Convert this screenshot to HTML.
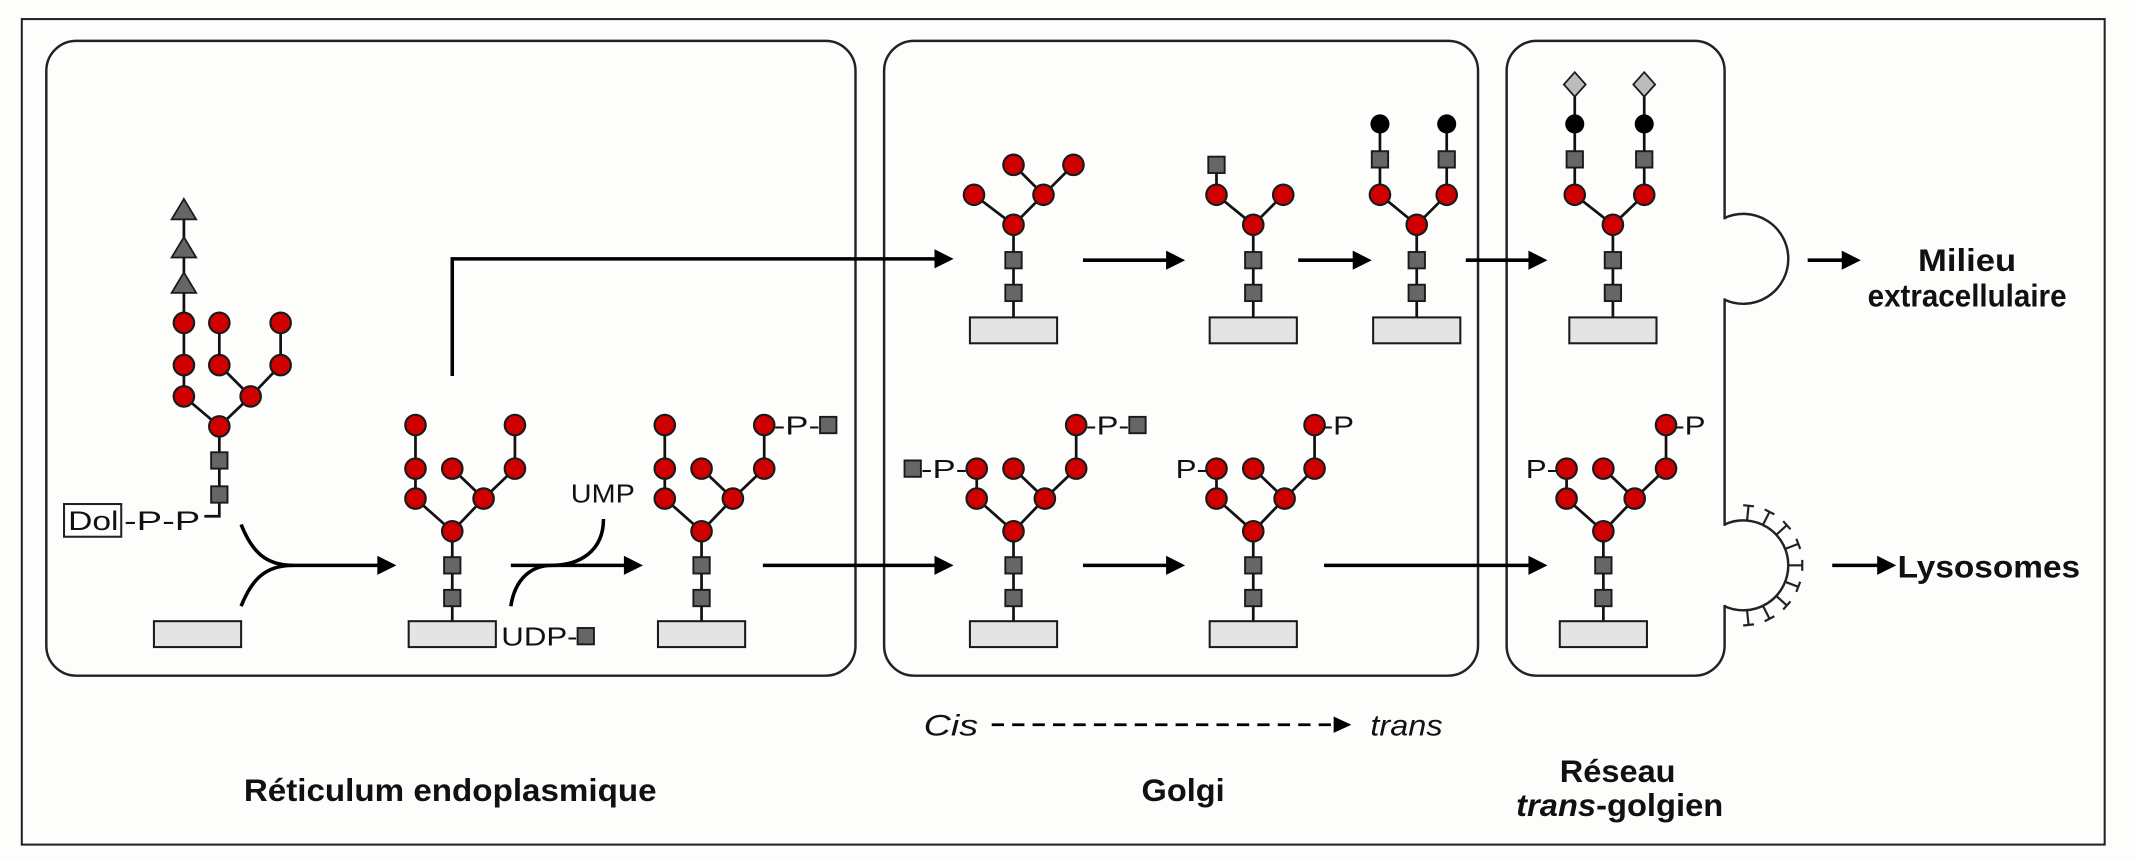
<!DOCTYPE html>
<html><head><meta charset="utf-8"><style>
html,body{margin:0;padding:0;background:#fdfdfb;}
svg{display:block;}
text{font-family:"Liberation Sans",Arial,sans-serif;fill:#111;}
</style></head><body>
<svg width="2136" height="860" viewBox="0 0 1568 631.3" xmlns="http://www.w3.org/2000/svg">
<defs>
<circle id="c" r="7.5" fill="#d10000" stroke="#1a1a1a" stroke-width="1.6"/>
<rect id="s" x="-6" y="-6" width="12" height="12" fill="#666" stroke="#1a1a1a" stroke-width="1.4"/>
<circle id="b" r="7" fill="#000"/>
<polygon id="d" points="0,-9 8,0 0,9 -8,0" fill="#bcbcbc" stroke="#1a1a1a" stroke-width="1.3"/>
<polygon id="t" points="0,-9 9,6 -9,6" fill="#666" stroke="#1a1a1a" stroke-width="1.3"/>
<rect id="r" x="-32" y="0" width="64" height="19" fill="#e4e4e4" stroke="#1a1a1a" stroke-width="1.5"/>
<polygon id="ah" points="0,0 -14,-7 -14,7" fill="#000"/>
</defs>
<rect x="0" y="0" width="1568" height="632" fill="#fdfdfb"/>
<rect x="16" y="14" width="1529" height="606" fill="none" stroke="#222" stroke-width="1.5"/>
<g fill="none" stroke="#222" stroke-width="1.8">
<rect x="34" y="30" width="594" height="466" rx="22"/>
<rect x="649" y="30" width="436" height="466" rx="22"/>
<rect x="1106" y="30" width="160" height="466" rx="22"/>
</g>
<line x1="1266" y1="161" x2="1266" y2="219" stroke="#fdfdfb" stroke-width="4"/>
<line x1="1266" y1="386" x2="1266" y2="444" stroke="#fdfdfb" stroke-width="4"/>
<g fill="none" stroke="#222" stroke-width="1.8">
<path d="M1266,160 A33,33 0 1 1 1266,220"/>
<path d="M1266,385 A33,33 0 1 1 1266,445"/>
</g>
<g stroke="#222" stroke-width="1.6">
<g transform="translate(1279,415) rotate(-84)"><line x1="33" x2="44"/><line x1="44" y1="-4" x2="44" y2="4"/></g>
<g transform="translate(1279,415) rotate(-63)"><line x1="33" x2="44"/><line x1="44" y1="-4" x2="44" y2="4"/></g>
<g transform="translate(1279,415) rotate(-42)"><line x1="33" x2="44"/><line x1="44" y1="-4" x2="44" y2="4"/></g>
<g transform="translate(1279,415) rotate(-21)"><line x1="33" x2="44"/><line x1="44" y1="-4" x2="44" y2="4"/></g>
<g transform="translate(1279,415) rotate(0)"><line x1="33" x2="44"/><line x1="44" y1="-4" x2="44" y2="4"/></g>
<g transform="translate(1279,415) rotate(21)"><line x1="33" x2="44"/><line x1="44" y1="-4" x2="44" y2="4"/></g>
<g transform="translate(1279,415) rotate(42)"><line x1="33" x2="44"/><line x1="44" y1="-4" x2="44" y2="4"/></g>
<g transform="translate(1279,415) rotate(63)"><line x1="33" x2="44"/><line x1="44" y1="-4" x2="44" y2="4"/></g>
<g transform="translate(1279,415) rotate(84)"><line x1="33" x2="44"/><line x1="44" y1="-4" x2="44" y2="4"/></g>
</g>

<g fill="none" stroke="#000" stroke-width="2.6">
<path d="M177,385 C185,405 195,415 215,415 L282,415"/>
<path d="M177,445 C185,425 195,415 215,415"/>
<path d="M375,415 H462"/>
<path d="M443,381 C443,405 425,415 405,415"/>
<path d="M375,445 C378,425 390,415 405,415"/>
<path d="M332,276 V190 H690"/>
<path d="M560,415 H690"/>
<path d="M795,191 H861"/><path d="M953,191 H998"/><path d="M1076,191 H1127"/>
<path d="M795,415 H861"/><path d="M972,415 H1127"/>
<path d="M1327,191 H1357"/><path d="M1345,415 H1383"/>
<path d="M728,532 H980" stroke-width="2" stroke-dasharray="9,6"/>
</g>
<use href="#ah" x="291" y="415"/><use href="#ah" x="472" y="415"/>
<use href="#ah" x="700" y="190"/><use href="#ah" x="700" y="415"/>
<use href="#ah" x="870" y="191"/><use href="#ah" x="1007" y="191"/><use href="#ah" x="1136" y="191"/>
<use href="#ah" x="870" y="415"/><use href="#ah" x="1136" y="415"/>
<use href="#ah" x="1366" y="191"/><use href="#ah" x="1392" y="415"/>
<polygon points="992,532 979,526 979,538" fill="#000"/>

<g transform="translate(161,313)">
<g stroke="#111" stroke-width="2" fill="none">
<path d="M0,0 V66 H-11"/>
<path d="M0,0 L-26,-22 V-160"/>
<path d="M0,0 L23,-22 L0,-45 V-76"/>
<path d="M23,-22 L45,-45 V-76"/>
</g>
<use href="#t" x="-26" y="-104"/><use href="#t" x="-26" y="-130"/><use href="#t" x="-26" y="-158"/>
<use href="#c" x="0" y="0"/><use href="#c" x="-26" y="-22"/><use href="#c" x="-26" y="-45"/><use href="#c" x="-26" y="-76"/>
<use href="#c" x="23" y="-22"/><use href="#c" x="0" y="-45"/><use href="#c" x="0" y="-76"/>
<use href="#c" x="45" y="-45"/><use href="#c" x="45" y="-76"/>
<use href="#s" x="0" y="25"/><use href="#s" x="0" y="50"/>
</g>
<rect x="47" y="370" width="42" height="24" fill="#fff" stroke="#222" stroke-width="1.5"/>
<text x="50" y="389" font-size="20" textLength="37" lengthAdjust="spacingAndGlyphs">Dol</text>
<text x="91" y="389" font-size="20" textLength="56" lengthAdjust="spacingAndGlyphs">-P-P</text>
<rect x="113" y="456" width="64" height="19" fill="#e4e4e4" stroke="#1a1a1a" stroke-width="1.5"/>

<g transform="translate(332,390)">
<g stroke="#111" stroke-width="2" fill="none">
<path d="M0,0 V66"/><path d="M0,0 L-27,-24 V-78"/><path d="M0,0 L23,-24 L0,-46"/><path d="M23,-24 L46,-46 V-78"/>
</g>
<use href="#c" x="0" y="0"/><use href="#c" x="-27" y="-24"/><use href="#c" x="-27" y="-46"/><use href="#c" x="-27" y="-78"/>
<use href="#c" x="23" y="-24"/><use href="#c" x="0" y="-46"/><use href="#c" x="46" y="-46"/><use href="#c" x="46" y="-78"/>
<use href="#s" x="0" y="25"/><use href="#s" x="0" y="49"/><use href="#r" x="0" y="66"/>
</g>
<text x="419" y="369" font-size="19" textLength="47" lengthAdjust="spacingAndGlyphs">UMP</text>
<text x="368" y="474" font-size="19" textLength="56" lengthAdjust="spacingAndGlyphs">UDP-</text>
<use href="#s" x="430" y="467"/>

<g transform="translate(515,390)">
<g stroke="#111" stroke-width="2" fill="none">
<path d="M0,0 V66"/><path d="M0,0 L-27,-24 V-78"/><path d="M0,0 L23,-24 L0,-46"/><path d="M23,-24 L46,-46 V-78"/>
</g>
<use href="#c" x="0" y="0"/><use href="#c" x="-27" y="-24"/><use href="#c" x="-27" y="-46"/><use href="#c" x="-27" y="-78"/>
<use href="#c" x="23" y="-24"/><use href="#c" x="0" y="-46"/><use href="#c" x="46" y="-46"/><use href="#c" x="46" y="-78"/>
<use href="#s" x="0" y="25"/><use href="#s" x="0" y="49"/><use href="#r" x="0" y="66"/>
<text x="53" y="-71" font-size="19" textLength="34" lengthAdjust="spacingAndGlyphs">-P-</text><use href="#s" x="93" y="-78"/>
</g>

<g transform="translate(744,165)">
<g stroke="#111" stroke-width="2" fill="none">
<path d="M0,0 V68"/><path d="M-29,-22 L0,0 L22,-22 L0,-44"/><path d="M22,-22 L44,-44"/>
</g>
<use href="#c" x="0" y="0"/><use href="#c" x="-29" y="-22"/><use href="#c" x="22" y="-22"/><use href="#c" x="0" y="-44"/><use href="#c" x="44" y="-44"/>
<use href="#s" x="0" y="26"/><use href="#s" x="0" y="50"/><use href="#r" x="0" y="68"/>
</g>
<g transform="translate(920,165)">
<g stroke="#111" stroke-width="2" fill="none">
<path d="M0,0 V68"/><path d="M-27,-44 V-22 L0,0 L22,-22"/>
</g>
<use href="#c" x="0" y="0"/><use href="#c" x="-27" y="-22"/><use href="#c" x="22" y="-22"/><use href="#s" x="-27" y="-44"/>
<use href="#s" x="0" y="26"/><use href="#s" x="0" y="50"/><use href="#r" x="0" y="68"/>
</g>
<g transform="translate(1040,165)">
<g stroke="#111" stroke-width="2" fill="none">
<path d="M0,0 V68"/><path d="M-27,-74 V-22 L0,0 L22,-22 V-74"/>
</g>
<use href="#c" x="0" y="0"/><use href="#c" x="-27" y="-22"/><use href="#c" x="22" y="-22"/>
<use href="#s" x="-27" y="-48"/><use href="#s" x="22" y="-48"/><use href="#b" x="-27" y="-74"/><use href="#b" x="22" y="-74"/>
<use href="#s" x="0" y="26"/><use href="#s" x="0" y="50"/><use href="#r" x="0" y="68"/>
</g>
<g transform="translate(1184,165)">
<g stroke="#111" stroke-width="2" fill="none">
<path d="M0,0 V68"/><path d="M-28,-103 V-22 L0,0 L23,-22 V-103"/>
</g>
<use href="#c" x="0" y="0"/><use href="#c" x="-28" y="-22"/><use href="#c" x="23" y="-22"/>
<use href="#s" x="-28" y="-48"/><use href="#s" x="23" y="-48"/><use href="#b" x="-28" y="-74"/><use href="#b" x="23" y="-74"/>
<use href="#d" x="-28" y="-103"/><use href="#d" x="23" y="-103"/>
<use href="#s" x="0" y="26"/><use href="#s" x="0" y="50"/><use href="#r" x="0" y="68"/>
</g>

<g transform="translate(744,390)">
<g stroke="#111" stroke-width="2" fill="none">
<path d="M0,0 V66"/><path d="M0,0 L-27,-24 V-46"/><path d="M0,0 L23,-24 L0,-46"/><path d="M23,-24 L46,-46 V-78"/>
</g>
<use href="#c" x="0" y="0"/><use href="#c" x="-27" y="-24"/><use href="#c" x="-27" y="-46"/>
<use href="#c" x="23" y="-24"/><use href="#c" x="0" y="-46"/><use href="#c" x="46" y="-46"/><use href="#c" x="46" y="-78"/>
<use href="#s" x="0" y="25"/><use href="#s" x="0" y="49"/><use href="#r" x="0" y="66"/>
<use href="#s" x="-74" y="-46"/><text x="-68" y="-39" font-size="19" textLength="34" lengthAdjust="spacingAndGlyphs">-P-</text>
<text x="53" y="-71" font-size="19" textLength="32" lengthAdjust="spacingAndGlyphs">-P-</text><use href="#s" x="91" y="-78"/>
</g>
<g transform="translate(920,390)">
<g stroke="#111" stroke-width="2" fill="none">
<path d="M0,0 V66"/><path d="M0,0 L-27,-24 V-46"/><path d="M0,0 L23,-24 L0,-46"/><path d="M23,-24 L45,-46 V-78"/>
</g>
<use href="#c" x="0" y="0"/><use href="#c" x="-27" y="-24"/><use href="#c" x="-27" y="-46"/>
<use href="#c" x="23" y="-24"/><use href="#c" x="0" y="-46"/><use href="#c" x="45" y="-46"/><use href="#c" x="45" y="-78"/>
<use href="#s" x="0" y="25"/><use href="#s" x="0" y="49"/><use href="#r" x="0" y="66"/>
<text x="-57" y="-39" font-size="19" textLength="23" lengthAdjust="spacingAndGlyphs">P-</text>
<text x="51" y="-71" font-size="19" textLength="23" lengthAdjust="spacingAndGlyphs">-P</text>
</g>
<g transform="translate(1177,390)">
<g stroke="#111" stroke-width="2" fill="none">
<path d="M0,0 V66"/><path d="M0,0 L-27,-24 V-46"/><path d="M0,0 L23,-24 L0,-46"/><path d="M23,-24 L46,-46 V-78"/>
</g>
<use href="#c" x="0" y="0"/><use href="#c" x="-27" y="-24"/><use href="#c" x="-27" y="-46"/>
<use href="#c" x="23" y="-24"/><use href="#c" x="0" y="-46"/><use href="#c" x="46" y="-46"/><use href="#c" x="46" y="-78"/>
<use href="#s" x="0" y="25"/><use href="#s" x="0" y="49"/><use href="#r" x="0" y="66"/>
<text x="-57" y="-39" font-size="19" textLength="23" lengthAdjust="spacingAndGlyphs">P-</text>
<text x="52" y="-71" font-size="19" textLength="23" lengthAdjust="spacingAndGlyphs">-P</text>
</g>

<g font-weight="bold" font-size="23">
<text x="1444" y="199" text-anchor="middle" textLength="72" lengthAdjust="spacingAndGlyphs">Milieu</text>
<text x="1444" y="225" text-anchor="middle" textLength="146" lengthAdjust="spacingAndGlyphs">extracellulaire</text>
<text x="1393" y="424" textLength="134" lengthAdjust="spacingAndGlyphs">Lysosomes</text>
<text x="179" y="588" textLength="303" lengthAdjust="spacingAndGlyphs">Réticulum endoplasmique</text>
<text x="838" y="588" textLength="61" lengthAdjust="spacingAndGlyphs">Golgi</text>
<text x="1145" y="574" textLength="85" lengthAdjust="spacingAndGlyphs">Réseau</text>
<text x="1113" y="599" textLength="152" lengthAdjust="spacingAndGlyphs"><tspan font-style="italic">trans</tspan>-golgien</text>
</g>
<text x="678" y="540" font-size="22" font-style="italic" textLength="40" lengthAdjust="spacingAndGlyphs">Cis</text>
<text x="1006" y="540" font-size="22" font-style="italic" textLength="53" lengthAdjust="spacingAndGlyphs">trans</text>
</svg>
</body></html>
